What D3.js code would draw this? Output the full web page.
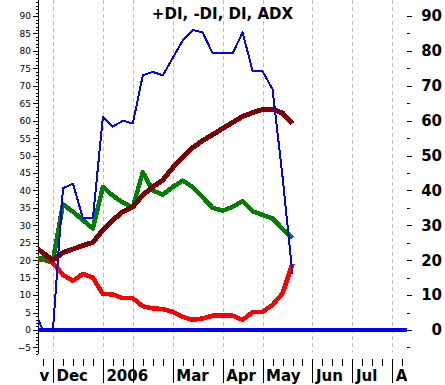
<!DOCTYPE html>
<html>
<head>
<meta charset="utf-8">
<script src="https://cdn.jsdelivr.net/npm/d3@7"></script>
<style>
body { margin: 0; background: #fff; }
svg { display: block; }
.axis text { font-family: "DejaVu Sans", sans-serif; fill: #000; }
.axis line { shape-rendering: crispEdges; }
</style>
</head>
<body>
<div id="chart"></div>
<script>
// weekly points, index 0 = last week of Nov 2005
const weeks = d3.range(-1, 26);
const plusDI  = [6, 0, 0, 40.6, 42, 32, 32, 61, 58.3, 60, 59.2, 73, 74, 73, 78, 83, 86, 85.3, 79.3, 79.3, 79.3, 85.3, 74.2, 74.2, 69, 44, 16];
const minusDI = [21, 20.5, 20, 36, 33.9, 31.5, 29.1, 41, 38.5, 36.5, 35.2, 45.2, 40, 38.8, 41, 42.8, 41, 38, 35, 34.2, 35.3, 37, 34, 33, 32, 29, 26.3];
const diLine  = [19.7, 20.3, 19.2, 15.8, 14.1, 16.1, 15, 10.3, 10.2, 9.1, 9.1, 6.8, 6.2, 6, 5.2, 3.8, 2.9, 3.3, 4.1, 4.1, 4.1, 2.9, 5.1, 5.2, 7.2, 10.5, 19];
const adx     = [24.3, 22.1, 20, 22.2, 23.2, 24.2, 25.1, 28.7, 31.5, 33.9, 35.3, 38.7, 41, 43, 46.5, 49.5, 52.3, 54.3, 56, 57.8, 59.5, 61.2, 62.3, 63.2, 63.3, 62.2, 59.2];

const monthWeeks  = [-3, 1, 6, 9, 13, 18, 22, 27, 31, 35];
const monthLabels = ["Nov", "Dec", "2006", "", "Mar", "Apr", "May", "Jun", "Jul", "Aug"];
const leftTicks  = d3.range(-5, 95, 5);
const rightTicks = d3.range(0, 100, 10);

const width = 445;
const height = 385;
const plot = { left: 38, right: 407, top: 0, bottom: 354 };

const svg = d3.select("#chart")
    .append("svg")
    .attr("width", width)
    .attr("height", height);

const x = d3.scaleLinear()
    .domain([0, 25])
    .range([43, 292.5]);

const y = d3.scaleLinear()
    .domain([-7, 94.6])
    .range([354.4, 0]);

const defs = svg.append("defs");
defs.append("clipPath").attr("id", "plotClip")
    .append("rect")
    .attr("x", plot.left).attr("y", plot.top)
    .attr("width", plot.right - plot.left).attr("height", plot.bottom - plot.top);
defs.append("clipPath").attr("id", "xClip")
    .append("rect")
    .attr("x", plot.left + 1).attr("y", plot.bottom)
    .attr("width", plot.right - plot.left - 1).attr("height", height - plot.bottom);

// vertical month gridlines
svg.append("g")
    .selectAll("line")
    .data(monthWeeks.filter(w => x(w) > plot.left && x(w) < plot.right))
    .enter()
    .append("line")
    .attr("x1", d => Math.round(x(d)) + 0.5)
    .attr("x2", d => Math.round(x(d)) + 0.5)
    .attr("y1", plot.top)
    .attr("y2", 352)
    .attr("stroke", "#bdbdbd")
    .attr("stroke-dasharray", "4,3")
    .style("shape-rendering", "crispEdges");

// left axis
svg.append("line")
    .attr("x1", plot.left + 0.5).attr("x2", plot.left + 0.5)
    .attr("y1", plot.top).attr("y2", plot.bottom)
    .attr("stroke", "#000")
    .style("shape-rendering", "crispEdges");

svg.append("g")
    .attr("class", "axis")
    .attr("transform", `translate(${plot.left},0)`)
    .call(d3.axisLeft(y).tickValues(d3.range(-7, 95)).tickSize(2).tickFormat(""))
    .call(g => g.select(".domain").remove());

svg.append("g")
    .attr("class", "axis")
    .attr("transform", `translate(${plot.left},0)`)
    .call(d3.axisLeft(y).tickValues(leftTicks).tickSize(5).tickPadding(2))
    .call(g => g.select(".domain").remove())
    .call(g => g.selectAll("text").style("font-size", "9px"));

// right axis
svg.append("g")
    .attr("class", "axis")
    .attr("transform", `translate(${plot.right},0)`)
    .call(d3.axisRight(y).tickValues(d3.range(-5, 95, 10)).tickSize(3).tickFormat(""))
    .call(g => g.select(".domain").remove());

svg.append("g")
    .attr("class", "axis")
    .attr("transform", `translate(${plot.right},0)`)
    .call(d3.axisRight(y).tickValues(rightTicks).tickSize(5))
    .call(g => g.select(".domain").remove())
    .call(g => g.selectAll("text")
        .attr("x", 35)
        .attr("text-anchor", "end")
        .style("font-size", "15px")
        .style("font-weight", "bold"));

// bottom axis: weekly ticks and month ticks
const xAxisG = svg.append("g").attr("clip-path", "url(#xClip)");

xAxisG.append("g")
    .attr("class", "axis")
    .attr("transform", "translate(0,359)")
    .call(d3.axisBottom(x)
        .tickValues(d3.range(-4, 37).filter(w => !monthWeeks.includes(w)))
        .tickSize(7).tickFormat(""))
    .call(g => g.select(".domain").remove());

xAxisG.append("g")
    .attr("class", "axis")
    .attr("transform", "translate(0,359)")
    .call(d3.axisBottom(x)
        .tickValues(monthWeeks)
        .tickSize(24)
        .tickFormat((d, i) => monthLabels[i]))
    .call(g => g.select(".domain").remove())
    .call(g => g.selectAll("text")
        .attr("x", 3)
        .attr("y", 22)
        .attr("dy", null)
        .attr("text-anchor", "start")
        .style("font-size", "15px")
        .style("font-weight", "bold"));

// series
const line = d3.line()
    .x((d, i) => x(weeks[i]))
    .y(d => y(d));

const lines = svg.append("g").attr("clip-path", "url(#plotClip)");

lines.append("line")
    .attr("x1", plot.left).attr("x2", plot.right)
    .attr("y1", y(0)).attr("y2", y(0))
    .attr("stroke", "#0000ff")
    .attr("stroke-width", 4.5)
    .style("shape-rendering", "crispEdges");

const series = [
    { values: diLine, color: "#ff0000", width: 4.5 },
    { values: minusDI, color: "#008000", width: 4.5 },
    { values: adx, color: "#800000", width: 5 },
    { values: plusDI, color: "#0000ff", width: 2 }
];

lines.selectAll(".series")
    .data(series)
    .enter()
    .append("path")
    .attr("class", "series")
    .attr("d", d => line(d.values))
    .attr("fill", "none")
    .attr("stroke", d => d.color)
    .attr("stroke-width", d => d.width)
    .attr("stroke-linejoin", "round")
    .style("shape-rendering", "crispEdges");

// title
svg.append("text")
    .attr("x", 222.5)
    .attr("y", 19)
    .attr("text-anchor", "middle")
    .style("font-family", "'DejaVu Sans', sans-serif")
    .style("font-size", "15px")
    .style("font-weight", "bold")
    .text("+DI, -DI, DI, ADX");
</script>
</body>
</html>
